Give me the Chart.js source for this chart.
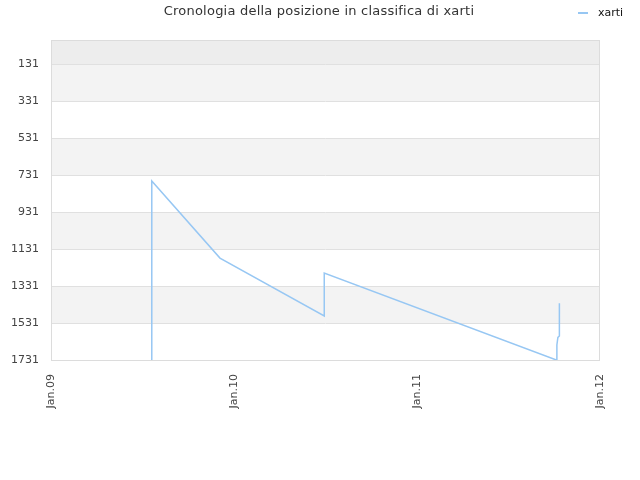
<!DOCTYPE html>
<html>
<head>
    <title>Cronologia della posizione in classifica di xarti</title>
    <script src="https://cdn.jsdelivr.net/npm/chart.js"></script>
    <style>
        html, body { margin: 0; padding: 0; background: #fff; }
        #wrap { width: 640px; height: 480px; }
    </style>
</head>
<body>
    <div id="wrap"><canvas id="myChart" width="640" height="480"></canvas></div>

    <script>
        const chartTitle = 'Cronologia della posizione in classifica di xarti';
        const seriesName = 'xarti';
        const dates = ['2009-07-21', '2009-07-21', '2009-12-04', '2010-06-30', '2010-06-30',
                       '2011-10-06', '2011-10-07', '2011-10-09', '2011-10-12', '2011-10-12'];
        const positions = [1731, 763, 1180, 1493, 1261, 1731, 1650, 1609, 1601, 1424];
        const yTicks = [131, 331, 531, 731, 931, 1131, 1331, 1531, 1731];
        const xTickYears = [2009, 2010, 2011, 2012];

        Chart.defaults.font.family = 'DejaVu Sans';
        Chart.defaults.animation = false;

        const points = dates.map((d, i) => ({ x: Date.parse(d), y: positions[i] }));

        // shaded bands behind the grid, plus the plot frame
        const bandsPlugin = {
            id: 'bands',
            beforeDraw(chart) {
                const { ctx, chartArea: a, scales: { y } } = chart;
                ctx.save();
                ctx.fillStyle = '#ededed';
                ctx.fillRect(a.left, a.top, a.right - a.left, y.getPixelForValue(yTicks[0]) - a.top);
                for (let i = 0; i < yTicks.length - 1; i++) {
                    if (i % 2 === 0) {
                        const y0 = y.getPixelForValue(yTicks[i]);
                        const y1 = y.getPixelForValue(yTicks[i + 1]);
                        ctx.fillStyle = '#f3f3f3';
                        ctx.fillRect(a.left, y0, a.right - a.left, y1 - y0);
                    }
                }
                ctx.restore();
            },
            afterDatasetsDraw(chart) {
                const { ctx, chartArea: a } = chart;
                ctx.save();
                ctx.strokeStyle = '#dcdcdc';
                ctx.lineWidth = 1;
                ctx.strokeRect(a.left + 0.5, a.top + 0.5, a.right - a.left - 1, a.bottom - a.top);
                ctx.restore();
            },
            afterDraw(chart) {
                const ctx = chart.ctx;
                ctx.save();
                ctx.font = '13px DejaVu Sans';
                ctx.letterSpacing = '0.22px';
                ctx.fillStyle = '#333';
                ctx.textAlign = 'center';
                ctx.textBaseline = 'middle';
                ctx.fillText(chartTitle, 319, 12);
                ctx.letterSpacing = '0px';
                // legend
                ctx.strokeStyle = '#97c7f3';
                ctx.lineWidth = 2;
                ctx.beginPath();
                ctx.moveTo(578, 13);
                ctx.lineTo(588, 13);
                ctx.stroke();
                ctx.font = '11px DejaVu Sans';
                ctx.fillStyle = '#111';
                ctx.textAlign = 'left';
                ctx.fillText(seriesName, 598, 13);
                ctx.restore();
            }
        };

        const ctx = document.getElementById('myChart').getContext('2d');
        const myChart = new Chart(ctx, {
            type: 'line',
            data: {
                datasets: [{
                    label: seriesName,
                    data: points,
                    borderColor: '#97c7f3',
                    borderWidth: 1.5,
                    pointRadius: 0,
                    tension: 0,
                    fill: false
                }]
            },
            options: {
                responsive: false,
                layout: { padding: { top: 40, right: 40, left: 0, bottom: 0 } },
                plugins: {
                    legend: { display: false },
                    title: { display: false },
                    tooltip: { enabled: false }
                },
                scales: {
                    x: {
                        type: 'linear',
                        min: Date.UTC(2009, 0, 1),
                        max: Date.UTC(2012, 0, 1),
                        afterBuildTicks: s => { s.ticks = xTickYears.map(yr => ({ value: Date.UTC(yr, 0, 1) })); },
                        afterFit: s => { s.height = 120; },
                        grid: { display: false },
                        border: { display: false },
                        ticks: {
                            minRotation: 90,
                            maxRotation: 90,
                            padding: 6,
                            color: '#444',
                            font: { size: 11 },
                            callback: v => 'Jan.' + String(new Date(v).getUTCFullYear()).slice(2)
                        }
                    },
                    y: {
                        reverse: true,
                        min: 1,
                        max: 1731,
                        afterBuildTicks: s => { s.ticks = yTicks.map(v => ({ value: v })); },
                        afterFit: s => { s.width = 51; },
                        grid: { color: '#e0e0e0', drawTicks: false },
                        border: { display: false },
                        ticks: {
                            padding: 12,
                            color: '#444',
                            font: { size: 11 },
                            callback: v => String(v)
                        }
                    }
                }
            },
            plugins: [bandsPlugin]
        });
    </script>
</body>
</html>
